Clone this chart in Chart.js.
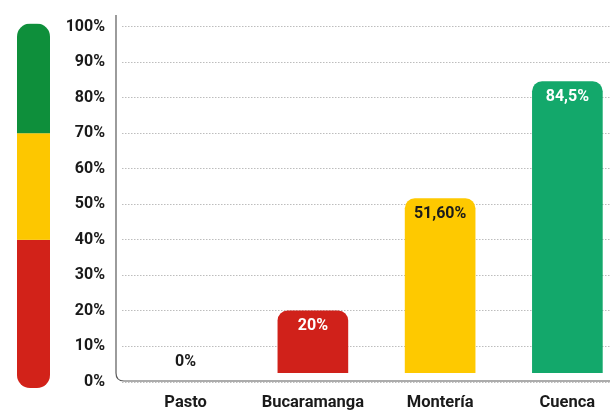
<!DOCTYPE html>
<html>
<head>
<meta charset="utf-8">
<script src="https://cdn.jsdelivr.net/npm/chart.js@4/dist/chart.umd.min.js"></script>
<style>
  html, body { margin: 0; padding: 0; background: #fff; overflow: hidden; }
  #wrap { position: relative; width: 640px; height: 410px; }
</style>
</head>
<body>
<div id="wrap"><canvas id="c"></canvas></div>
<script>
// ---- data ----
const categories = ['Pasto', 'Bucaramanga', 'Montería', 'Cuenca'];
const values = [0, 20, 51.6, 84.5];
const valueLabels = ['0%', '20%', '51,60%', '84,5%'];
const yTicks = [0, 10, 20, 30, 40, 50, 60, 70, 80, 90, 100];

// ---- styles ----
const barColors = ['#D0211A', '#D0211A', '#FEC900', '#13A86B'];
const labelColors = ['#1a1a1a', '#ffffff', '#1a1a1a', '#ffffff'];
const bandColors = [
  { from: 0, to: 40, color: '#D22219' },
  { from: 40, to: 70, color: '#FDC700' },
  { from: 70, to: 100, color: '#0E8F3B' }
];
const FONT = 'Roboto, "DejaVu Sans", sans-serif';

const decoPlugin = {
  id: 'deco',
  beforeDraw(chart) {
    const ctx = chart.ctx, y = chart.scales.y, ca = chart.chartArea;
    // left traffic-light bar
    const x0 = 17, x1 = 50, r = 13;
    const top = y.getPixelForValue(100) - 3, bot = y.getPixelForValue(0) + 6;
    ctx.save();
    ctx.beginPath();
    ctx.roundRect(x0, top, x1 - x0, bot - top, r);
    ctx.clip();
    bandColors.forEach(b => {
      let yt = y.getPixelForValue(b.to), yb = y.getPixelForValue(b.from);
      if (b.to === 100) yt = top;
      if (b.from === 0) yb = bot;
      ctx.fillStyle = b.color;
      ctx.fillRect(x0, yt, x1 - x0, yb - yt);
    });
    ctx.restore();
    // frame
    const fx = ca.left - 6, fy = ca.bottom - 1, fr = 8;
    ctx.save();
    ctx.strokeStyle = '#5a5a5a';
    ctx.lineWidth = 1.2;
    ctx.beginPath();
    ctx.moveTo(fx, 15);
    ctx.lineTo(fx, fy - fr);
    ctx.quadraticCurveTo(fx, fy, fx + fr, fy);
    ctx.lineTo(chart.width, fy);
    ctx.stroke();
    ctx.restore();
  },
  beforeDatasetsDraw(chart) {
    const ctx = chart.ctx, ca = chart.chartArea;
    ctx.save();
    ctx.beginPath();
    ctx.rect(ca.left, 0, ca.right - ca.left, ca.bottom - 9);
    ctx.clip();
  },
  afterDatasetsDraw(chart) {
    const ctx = chart.ctx;
    ctx.restore();
    const meta = chart.getDatasetMeta(0);
    ctx.save();
    ctx.font = 'bold 16px ' + FONT;
    ctx.textAlign = 'center';
    ctx.textBaseline = 'middle';
    meta.data.forEach((bar, i) => {
      const v = values[i];
      ctx.fillStyle = labelColors[i];
      const ty = v === 0 ? bar.y - 20 : bar.y + 15;
      ctx.fillText(valueLabels[i], bar.x, ty);
    });
    ctx.restore();
  }
};

new Chart(document.getElementById('c'), {
  type: 'bar',
  data: {
    labels: categories,
    datasets: [{
      data: values,
      backgroundColor: barColors,
      barThickness: 70,
      borderRadius: { topLeft: 10, topRight: 10, bottomLeft: 0, bottomRight: 0 },
      borderSkipped: 'start'
    }]
  },
  options: {
    responsive: true,
    maintainAspectRatio: false,
    animation: false,
    layout: { padding: { top: 22, right: 9, bottom: 0, left: 0 } },
    plugins: { legend: { display: false }, tooltip: { enabled: false } },
    scales: {
      x: {
        grid: { display: false, drawTicks: false },
        border: { display: false },
        ticks: { color: '#1a1a1a', font: { family: FONT, size: 16.5, weight: 'bold' }, padding: 11, maxRotation: 0 },
        afterFit(s) { s.height = 28; }
      },
      y: {
        min: 0, max: 100,
        afterBuildTicks(s) { s.ticks = yTicks.map(v => ({ value: v })); },
        grid: { color: '#bdbdbd', lineWidth: 1, drawTicks: false },
        border: { display: false, dash: [1.5, 1.5] },
        ticks: {
          color: '#1a1a1a',
          font: { family: FONT, size: 16, weight: 'bold' },
          padding: 17,
          callback: v => v + '%'
        },
        afterFit(s) { s.width = 122; }
      }
    }
  },
  plugins: [decoPlugin]
});
</script>
</body>
</html>
